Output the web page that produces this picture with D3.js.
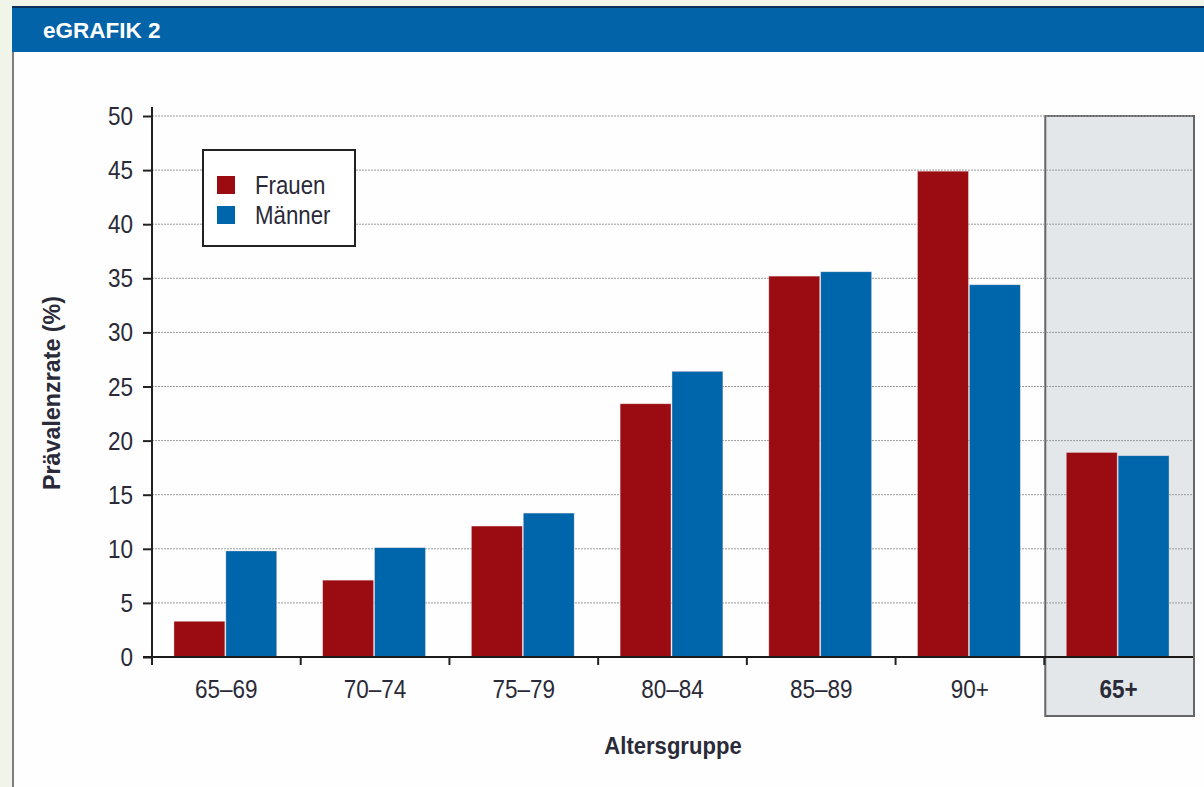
<!DOCTYPE html>
<html>
<head>
<meta charset="utf-8">
<script src="https://cdn.jsdelivr.net/npm/d3@7/dist/d3.min.js"></script>
<style>
  html, body { margin: 0; padding: 0; background: #f1f4e9; }
  svg { display: block; }
</style>
</head>
<body>
<svg id="chart" width="1204" height="787"></svg>
<script>
// Prävalenz nach Altersgruppe, Frauen vs. Männer
const categories = ["65–69", "70–74", "75–79", "80–84", "85–89", "90+", "65+"];
const series = ["Frauen", "Männer"];
const frauen = [3.3, 7.1, 12.1, 23.4, 35.2, 44.9, 18.9];
const maenner = [9.8, 10.1, 13.3, 26.4, 35.6, 34.4, 18.6];
const yTicks = [0, 5, 10, 15, 20, 25, 30, 35, 40, 45, 50];
const colors = { "Frauen": "#9a0c12", "Männer": "#0066ab" };

const svg = d3.select("#chart");
const font = "'Liberation Sans', Arial, sans-serif";
const ink = "#2a2a38";
const narrow = 0.9; // condensed look of the label face

// text helper with horizontal condensing
function label(parent, x, y, str, opts = {}) {
  const rot = opts.rotate ? ` rotate(${opts.rotate})` : "";
  return parent.append("text")
    .attr("transform", `translate(${x},${y})${rot} scale(${opts.sx ?? narrow},1)`)
    .attr("text-anchor", opts.anchor || "middle")
    .attr("font-family", font).attr("font-size", opts.size || 25)
    .attr("font-weight", opts.bold ? "bold" : "normal")
    .attr("fill", ink).text(str);
}

// panel + header
svg.append("rect").attr("x", 13).attr("y", 7).attr("width", 1200).attr("height", 790)
  .attr("fill", "#fefefe").attr("stroke", "#7d7d7d").attr("stroke-width", 2);
svg.append("rect").attr("x", 12).attr("y", 6).attr("width", 1200).attr("height", 46)
  .attr("fill", "#0363a9");
svg.append("line").attr("x1", 12).attr("x2", 1204).attr("y1", 7).attr("y2", 7)
  .attr("stroke", "#0b2f5a").attr("stroke-width", 2);
svg.append("text").attr("x", 43).attr("y", 38).text("eGRAFIK 2")
  .attr("fill", "#ffffff").attr("font-family", font)
  .attr("font-weight", "bold").attr("font-size", 22.5);

const x0 = d3.scaleBand().domain(categories).range([152, 1193]);
const x1 = d3.scaleBand().domain(series).range([22, x0.bandwidth() - 24]).paddingInner(0.02);
const y = d3.scaleLinear().domain([0, 50]).range([657, 116]);

// highlighted total column
const totX = x0("65+");
svg.append("rect").attr("x", totX + 1).attr("y", y(50)).attr("width", x0.bandwidth())
  .attr("height", 716 - y(50)).attr("fill", "#e3e7ea").attr("stroke", "#666").attr("stroke-width", 2);

// grid
svg.append("g").selectAll("line").data(yTicks.filter(d => d > 0)).join("line")
  .attr("x1", 152).attr("x2", x0.range()[1]).attr("y1", d => y(d)).attr("y2", d => y(d))
  .attr("stroke", "#9a9a9a").attr("stroke-width", 1).attr("stroke-dasharray", "2,1");

// bars
const rows = categories.map((c, i) => ({ cat: c, vals: [
  { key: "Frauen", v: frauen[i] }, { key: "Männer", v: maenner[i] } ] }));
svg.append("g").selectAll("g").data(rows).join("g")
  .attr("transform", d => `translate(${x0(d.cat)},0)`)
  .selectAll("rect").data(d => d.vals).join("rect")
  .attr("x", d => x1(d.key)).attr("width", x1.bandwidth())
  .attr("y", d => y(d.v)).attr("height", d => y(0) - y(d.v))
  .attr("fill", d => colors[d.key]).attr("stroke", "#f2d7d7").attr("stroke-width", 0.6)
  .attr("stroke-opacity", 0.6);

// y axis
const yAxis = d3.axisLeft(y).tickValues(yTicks).tickSize(9).tickFormat(() => "");
const gy = svg.append("g").attr("transform", "translate(152,0)").call(yAxis);
gy.select(".domain").attr("stroke", "#222").attr("stroke-width", 2).attr("d", "M0,107V657");
gy.selectAll(".tick line").attr("stroke", "#222").attr("stroke-width", 2);
yTicks.forEach(t => label(svg, 133, y(t) + 9, String(t), { anchor: "end" }));

// x axis
svg.append("line").attr("x1", 143).attr("x2", x0.range()[1]).attr("y1", y(0)).attr("y2", y(0))
  .attr("stroke", "#1a1a1a").attr("stroke-width", 2);
const bounds = categories.map(c => x0(c));
svg.append("g").selectAll("line").data(bounds).join("line")
  .attr("x1", d => d).attr("x2", d => d).attr("y1", y(0)).attr("y2", y(0) + 8)
  .attr("stroke", "#222").attr("stroke-width", 2);
categories.forEach(c => label(svg, x0(c) + x0.bandwidth() / 2, 698, c, { bold: c === "65+" }));

// axis titles
label(svg, 673, 754, "Altersgruppe", { bold: true, size: 24, sx: 0.92 });
label(svg, 60, 393, "Prävalenzrate (%)", { bold: true, size: 24, sx: 0.97, rotate: -90 });

// legend
const lg = svg.append("g").attr("transform", "translate(203,150)");
lg.append("rect").attr("width", 152).attr("height", 96).attr("fill", "#fff")
  .attr("stroke", "#222").attr("stroke-width", 2);
series.forEach((s, i) => {
  lg.append("rect").attr("x", 14).attr("y", 26 + i * 30).attr("width", 18).attr("height", 18)
    .attr("fill", colors[s]);
  label(lg, 52, 44 + i * 30, s, { anchor: "start", size: 25, sx: 0.89 });
});
</script>
</body>
</html>
